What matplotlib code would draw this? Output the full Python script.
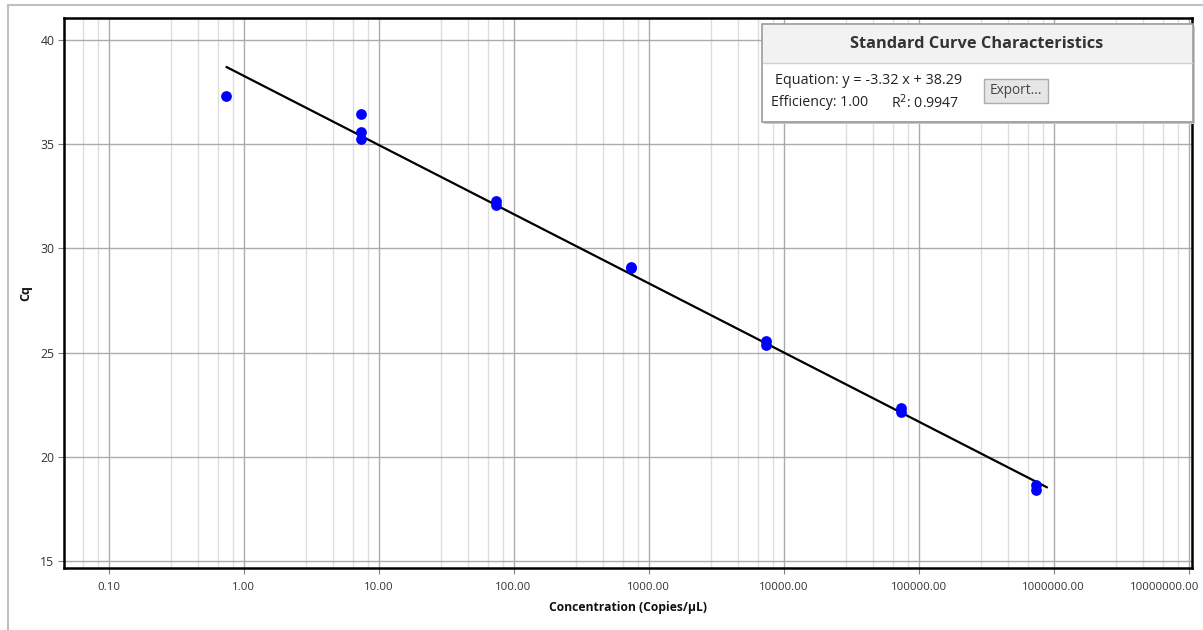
import numpy as np
import matplotlib
matplotlib.use("Agg")
import matplotlib.pyplot as plt
from matplotlib.patches import Rectangle
from matplotlib.ticker import FixedLocator, FuncFormatter, NullFormatter
from matplotlib.transforms import ScaledTranslation

plt.rcParams['font.family'] = ['Open Sans', 'DejaVu Sans']

# standards (copies/uL) and measured Cq
conc = [0.74, 7.4, 7.4, 7.4, 74, 74, 740, 740, 7400, 7400, 74000, 74000, 740000, 740000]
cq = [37.31, 36.43, 35.57, 35.24, 32.27, 32.08, 29.12, 29.05, 25.56, 25.36,
      22.34, 22.15, 18.65, 18.41]

# fitted standard curve
slope = -3.32
intercept = 38.29
efficiency = 1.00
r2 = 0.9947
fit_range = [0.75, 890000]

x_ticks = [0.1, 1, 10, 100, 1000, 10000, 100000, 1000000, 10000000]
y_ticks = [15, 20, 25, 30, 35, 40]

fig = plt.figure(figsize=(12.03, 6.30), dpi=100)
ax = fig.add_axes([0.0532, 0.0984, 0.9377, 0.8730])

ax.set_xscale('log')
ax.set_xlim(0.0468, 1.06e7)
ax.set_ylim(14.66, 41.06)

# minor grid positions inside each decade
minor = [m * 10.0 ** e for e in range(-2, 8) for m in (2.9, 4.6, 6.5, 8.3)]
ax.xaxis.set_major_locator(FixedLocator(x_ticks))
ax.xaxis.set_minor_locator(FixedLocator(minor))
ax.xaxis.set_major_formatter(FuncFormatter(lambda v, p: f"{v:.2f}"))
ax.xaxis.set_minor_formatter(NullFormatter())
ax.set_yticks(y_ticks)

ax.grid(True, which='major', color='#ababab', lw=1.0)
ax.grid(True, which='minor', axis='x', color='#dedede', lw=1.0)
ax.set_axisbelow(True)

ax.tick_params(axis='both', which='major', length=4, color='#808080',
               labelcolor='#333333')
ax.tick_params(axis='x', which='major', labelsize=8.2, pad=6)
ax.tick_params(axis='y', which='major', labelsize=8.8, pad=3)
ax.tick_params(axis='x', which='minor', length=0)
for s in ax.spines.values():
    s.set_linewidth(1.8)
    s.set_color('black')

# fit line from the equation
fx = np.array(fit_range)
fy = slope * np.log10(fx) + intercept
ax.plot(fx, fy, color='black', lw=1.6, zorder=3)

ax.scatter(conc, cq, s=60, color='#0000ff', zorder=4, linewidths=0)

ax.set_xlabel('Concentration (Copies/µL)', fontsize=8.7, fontweight='bold',
              labelpad=6, color='#111111')
ax.set_ylabel('Cq', fontsize=9, fontweight='bold', labelpad=6, color='#111111')

# keep the last tick label inside the figure
fig.canvas.draw()
last = ax.get_xticklabels()[-1]
last.set_ha('right')
last.set_transform(last.get_transform() +
                   ScaledTranslation(0.11, 0, fig.dpi_scale_trans))

# info panel in figure pixel coordinates
W, H = 1203, 630


def px(x, y):
    return x / W, 1 - y / H


panel = Rectangle(px(762, 122), (1193 - 762) / W, (122 - 24) / H,
                  transform=fig.transFigure, facecolor='white',
                  edgecolor='#9a9a9a', lw=1.2, zorder=10)
shadow = Rectangle(px(764, 124), (1193 - 762) / W, (122 - 24) / H,
                   transform=fig.transFigure, facecolor='#c8c8c8',
                   edgecolor='none', zorder=9)
header = Rectangle(px(763, 63), (1192 - 763) / W, (63 - 25) / H,
                   transform=fig.transFigure, facecolor='#f2f2f2',
                   edgecolor='none', zorder=11)
fig.patches.extend([shadow, panel, header])
fig.add_artist(plt.Line2D([763 / W, 1192 / W], [1 - 63 / H, 1 - 63 / H],
                          color='#d0d0d0', lw=1, zorder=12))

fig.text(*px(977, 44), 'Standard Curve Characteristics', fontsize=11.8,
         fontweight='bold', color='#333333', ha='center', va='center',
         zorder=13)
fig.text(*px(775, 80), f'Equation: y = {slope:.2f} x + {intercept:.2f}',
         fontsize=10.4, color='#222222', ha='left', va='center', zorder=13)
fig.text(*px(771, 103), f'Efficiency: {efficiency:.2f}', fontsize=10.2,
         color='#222222', ha='left', va='center', zorder=13)
fig.text(*px(891, 103), f'R$^2$: {r2:.4f}', fontsize=10.2,
         color='#222222', ha='left', va='center', zorder=13)

button = Rectangle(px(984, 103), (1048 - 984) / W, (103 - 79) / H,
                   transform=fig.transFigure, facecolor='#e6e6e6',
                   edgecolor='#adadad', lw=1, zorder=12)
fig.patches.append(button)
fig.text(*px(1016, 91), 'Export...', fontsize=9.8, color='#444444',
         ha='center', va='center', zorder=13)

# window frame
fig.add_artist(plt.Line2D([8 / W, 8 / W], [0, 1 - 5 / H], color='#c0c0c0', lw=1.5))
fig.add_artist(plt.Line2D([8 / W, 1], [1 - 5 / H, 1 - 5 / H], color='#c0c0c0', lw=1.5))

fig.savefig('out.png', dpi=100)
